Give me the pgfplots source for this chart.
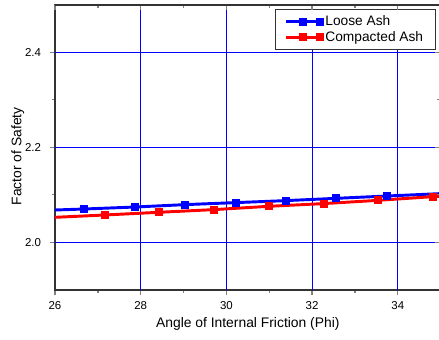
\documentclass[border=0pt]{standalone}
\usepackage{fontspec}
\setmainfont{Liberation Sans}
\usepackage{pgfplots}
\pgfplotsset{compat=1.18}
\begin{document}
\begin{tikzpicture}
\pgfplotsset{
  base/.style={
    scale only axis, width=289.2pt, height=213.75pt,
    xmin=26, xmax=35, ymin=1.9, ymax=2.5,
    xtick={26,28,...,34}, ytick={2.0,2.2,2.4},
    minor xtick={27,29,31,33}, minor ytick={2.1,2.3},
    major tick length=4pt, minor tick length=2.5pt,
    axis line style={black!80, line width=1.1pt},
    every tick/.append style={line width=1pt},
  }
}
\begin{axis}[base,
  xtick pos=bottom, ytick pos=left, tick align=outside,
  /pgf/number format/assume math mode=true,
  yticklabel style={/tikz/xshift=-3pt, /pgf/number format/.cd, fixed, fixed zerofill, precision=1, assume math mode=true},
  tick label style={font=\fontsize{8.6}{10}\selectfont},
  xticklabel style={yshift=-1.5pt},
  label style={font=\fontsize{10.4}{12}\selectfont},
  xlabel={Angle of Internal Friction (Phi)},
  ylabel={Factor of Safety},
  ylabel style={at={(rel axis cs:0,0.468)}, yshift=19.5pt},
  xlabel style={yshift=1pt},
  legend cell align=left,
  legend style={at={(rel axis cs:1,1)}, anchor=north east, xshift=-3.7pt, yshift=-2.9pt,
    draw=black!80, line width=0.8pt, font=\fontsize{10.3}{12}\selectfont,
    inner xsep=7pt, inner ysep=3pt, row sep=-1.5pt},
  legend image code/.code={\draw[mark repeat=2,mark phase=2,#1] plot coordinates {(0cm,0cm) (0.45cm,0cm) (0.9cm,0cm)};},
]
\coordinate (bl) at (rel axis cs:0,0);
\coordinate (tr) at (rel axis cs:1,1);
% grid lines
\addplot[blue, line width=0.6pt, forget plot] coordinates {(28,1.9) (28,2.5)};
\addplot[blue, line width=0.6pt, forget plot] coordinates {(30,1.9) (30,2.5)};
\addplot[blue, line width=0.6pt, forget plot] coordinates {(32,1.9) (32,2.5)};
\addplot[blue, line width=0.6pt, forget plot] coordinates {(34,1.9) (34,2.5)};
\addplot[blue, line width=0.6pt, forget plot] coordinates {(26,2.0) (35,2.0)};
\addplot[blue, line width=0.6pt, forget plot] coordinates {(26,2.2) (35,2.2)};
\addplot[blue, line width=0.6pt, forget plot] coordinates {(26,2.4) (35,2.4)};
% data
\addplot[blue, line width=2.2pt, mark=square*, mark size=1.9pt, mark indices={2,3,4,5,6,7,8}] coordinates {
 (26,2.068) (26.68,2.0701) (27.87,2.0743) (29.03,2.0793) (30.23,2.0836) (31.40,2.0878) (32.57,2.0926) (33.76,2.0975) (35,2.1025)};
\addlegendentry{Loose Ash}
\addplot[red, line width=2.2pt, mark=square*, mark size=1.9pt, mark indices={2,3,4,5,6,7,8}] coordinates {
 (26,2.0526) (27.16,2.0575) (28.43,2.0632) (29.71,2.0688) (30.99,2.0758) (32.27,2.0815) (33.55,2.0884) (34.83,2.0962) (35,2.097)};
\addlegendentry{Compacted Ash}
\end{axis}
\begin{axis}[base,
  axis x line*=top, axis y line*=right, tick align=inside,
  xticklabels={}, yticklabels={},
]
\end{axis}
\pgfresetboundingbox
\path ([xshift=-41.25pt,yshift=-36.9pt]bl) rectangle ([xshift=-1.2pt,yshift=3.6pt]tr);
\end{tikzpicture}
\end{document}
